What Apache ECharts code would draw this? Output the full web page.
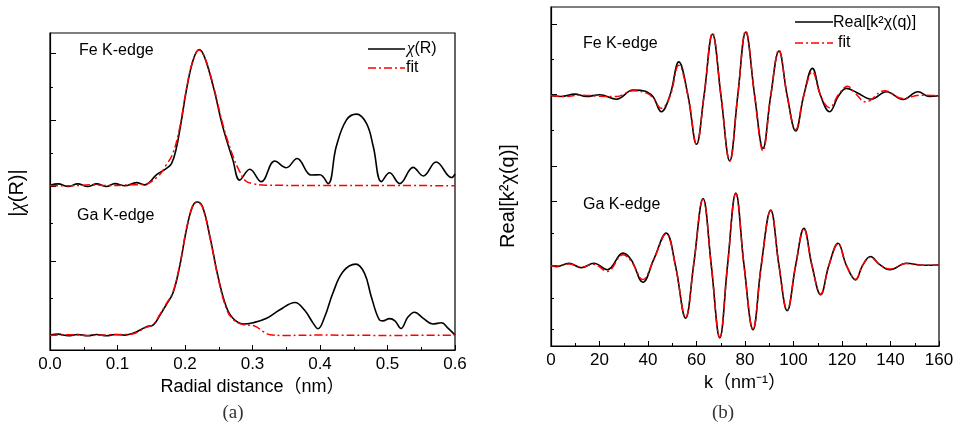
<!DOCTYPE html>
<html>
<head>
<meta charset="utf-8">
<script src="https://cdn.jsdelivr.net/npm/echarts@6/dist/echarts.min.js"></script>
<style>
  html, body { margin: 0; padding: 0; background: #fff; }
  #chart { width: 961px; height: 434px; }
</style>
</head>
<body>
<div id="chart"></div>
<script>
// (a) |chi(R)| -- [R (nm), offset magnitude]
const feChi = [
  [0, 52.0], [0.012, 52.4], [0.027, 51.6], [0.041, 52.4], [0.056, 51.6], [0.069, 52.4],
  [0.084, 51.6], [0.096, 52.5], [0.111, 51.8], [0.128, 52.8], [0.140, 52.1], [0.158, 55.3],
  [0.172, 57.2], [0.180, 58.8], [0.187, 63.5], [0.194, 71.5], [0.202, 81.9], [0.212, 91.4],
  [0.221, 94.8], [0.229, 92.4], [0.242, 83.0], [0.256, 70.4], [0.271, 59.9], [0.281, 53.6],
  [0.296, 57.0], [0.313, 53.1], [0.333, 59.6], [0.350, 57.5], [0.366, 60.4], [0.387, 55.2],
  [0.400, 55.3], [0.412, 52.5], [0.424, 64.1], [0.439, 72.5], [0.454, 74.4], [0.469, 71.4],
  [0.479, 64.1], [0.491, 53.1], [0.503, 55.9], [0.518, 52.5], [0.538, 57.6], [0.553, 54.9],
  [0.572, 59.3], [0.595, 54.4], [0.6, 55.5]
];
const feChiFit = [
  [0, 51.9], [0.03, 51.8], [0.06, 52.1], [0.09, 51.9], [0.12, 52.1], [0.14, 52.3],
  [0.16, 54.8], [0.172, 58.3], [0.182, 62.0], [0.192, 70.0], [0.202, 82.2], [0.212, 91.5],
  [0.221, 94.6], [0.229, 92.4], [0.242, 83.4], [0.256, 71.2], [0.271, 61.2], [0.281, 56.3],
  [0.290, 53.3], [0.300, 52.5], [0.32, 52.0], [0.4, 51.9], [0.5, 51.9], [0.6, 51.8]
];
const gaChi = [
  [0, 4.7], [0.012, 5.0], [0.027, 4.5], [0.041, 4.9], [0.056, 4.5], [0.069, 4.9],
  [0.084, 4.5], [0.096, 4.9], [0.111, 4.7], [0.123, 5.25], [0.143, 7.35], [0.153, 7.9],
  [0.163, 11.0], [0.172, 14.2], [0.182, 17.9], [0.192, 26.3], [0.202, 37.8], [0.211, 45.2],
  [0.218, 46.7], [0.226, 45.2], [0.237, 35.7], [0.249, 23.1], [0.261, 13.7], [0.271, 10.0],
  [0.286, 8.2], [0.301, 8.6], [0.321, 10.0], [0.340, 12.6], [0.363, 15.0], [0.377, 12.6],
  [0.390, 8.4], [0.397, 6.7], [0.407, 10.5], [0.419, 17.9], [0.434, 24.7], [0.453, 27.1],
  [0.466, 24.2], [0.476, 16.8], [0.488, 9.5], [0.493, 9.2], [0.503, 9.9], [0.511, 9.2],
  [0.520, 6.8], [0.530, 10.3], [0.540, 11.9], [0.553, 10.0], [0.567, 8.2], [0.580, 8.6],
  [0.590, 6.8], [0.6, 4.7]
];
const gaChiFit = [
  [0, 4.6], [0.03, 4.8], [0.06, 4.6], [0.09, 4.8], [0.12, 5.0], [0.143, 7.2], [0.153, 8.1],
  [0.163, 11.3], [0.172, 14.5], [0.182, 18.2], [0.192, 26.6], [0.202, 38.0], [0.211, 45.3],
  [0.218, 46.6], [0.226, 45.0], [0.237, 35.4], [0.249, 22.8], [0.261, 13.2], [0.271, 9.7],
  [0.286, 8.0], [0.303, 7.6], [0.316, 5.8], [0.326, 4.8], [0.35, 4.6], [0.4, 4.7],
  [0.5, 4.6], [0.6, 4.7]
];

// (b) Real[k^2 chi(q)] -- [k (nm^-1), offset value]
const feReal = [
  [0, 73.9], [4.3, 73.6], [9.8, 74.3], [14.6, 73.6], [20.1, 74.1], [27, 72.8], [33.8, 75.5],
  [37, 75.4], [39.4, 75.0], [42.1, 73.5], [45.5, 69.1], [49, 73.8], [52.7, 83.8], [56.5, 73.8],
  [60, 59.5], [63.1, 73.8], [66.6, 92.0], [70.1, 73.8], [73.7, 54.6], [77.0, 73.8], [80.3, 92.6],
  [84.0, 73.8], [87.4, 58.3], [90.6, 73.8], [94.0, 87.0], [97.4, 73.8], [100.9, 63.4],
  [104.2, 73.8], [107.8, 81.9], [111.2, 73.8], [114.9, 69.1], [118.6, 73.8], [121.8, 76.0],
  [126, 74.8], [132.1, 72.8], [138.3, 75.0], [145.2, 72.7], [151.3, 75.0], [156.1, 73.6], [160, 73.8]
];
const feRealFit = [
  [0, 73.9], [6, 73.6], [12, 74.0], [20, 73.7], [27, 73.6], [33.8, 75.3], [39.4, 74.6],
  [42.1, 73.2], [45.5, 70.1], [49, 73.5], [52.7, 82.8], [56.5, 73.8], [60, 59.5], [63.1, 73.8],
  [66.6, 92.3], [70.1, 73.8], [73.7, 54.6], [77.0, 73.8], [80.3, 92.9], [84.0, 73.6], [87.4, 57.6],
  [90.6, 73.8], [94.0, 87.3], [97.4, 73.8], [100.9, 63.8], [104.2, 73.8], [107.8, 80.9],
  [111.2, 73.8], [114.9, 70.3], [118.6, 74.2], [122.3, 76.6], [125.5, 74.5], [129.8, 72.0],
  [137.5, 75.3], [145.2, 73.0], [152, 74.0], [160, 73.8]
];
const gaReal = [
  [0, 23.8], [2.2, 23.4], [7.4, 24.4], [12.5, 23.1], [17.7, 24.4], [23.2, 22.5], [29.7, 27.4],
  [33.1, 25.4], [37.9, 18.8], [42.3, 25.4], [47.5, 33.3], [51.3, 23.8], [55.5, 8.2], [58.8, 23.8],
  [62.7, 43.5], [66.1, 23.8], [69.6, 2.4], [72.8, 23.8], [76.2, 45.1], [79.6, 23.8], [83.3, 4.8],
  [86.7, 23.8], [90.6, 40.1], [94.0, 23.8], [97.4, 10.4], [100.9, 23.8], [104.3, 34.7],
  [107.6, 23.8], [111.2, 15.1], [114.6, 23.8], [118.4, 30.3], [121.8, 23.8], [125.6, 19.5],
  [128.5, 23.8], [131.7, 26.4], [135.6, 24.0], [139.7, 22.5], [146.6, 24.4], [153.5, 23.8], [160, 23.9]
];
const gaRealFit = [
  [0, 23.7], [3, 23.6], [7.4, 24.2], [12.5, 23.3], [17.7, 24.1], [23.2, 22.0], [29.7, 26.9],
  [33.1, 25.0], [37.9, 19.6], [42.3, 25.4], [47.5, 33.1], [51.3, 23.8], [55.5, 8.4], [58.8, 23.8],
  [62.7, 43.3], [66.1, 23.8], [69.6, 2.6], [72.8, 23.8], [76.2, 44.9], [79.6, 23.8], [83.3, 5.0],
  [86.7, 23.8], [90.6, 39.9], [94.0, 23.8], [97.4, 10.6], [100.9, 23.8], [104.3, 34.5],
  [107.6, 23.8], [111.2, 15.3], [114.6, 23.8], [118.4, 30.1], [121.8, 23.8], [125.6, 19.7],
  [128.5, 23.8], [131.7, 26.2], [135.6, 24.0], [139.7, 22.7], [146.6, 24.3], [153.5, 23.8], [160, 23.8]
];

// unlabeled y ticks (irregular in the original)
const yTicksA = [93.5, 72.5, 51.5, 28.0, 4.7];
const yTicksAMinor = [83.0, 62.0, 39.9, 16.3];
const yTicksB = [94.8, 74.2, 53.0, 42.8, 23.7];
const yTicksBMinor = [84.5, 63.5, 33.4, 14.1, 4.8];

const SANS = 'Liberation Sans, Arial, Noto Sans CJK SC, sans-serif';
const SERIF = 'Liberation Serif, DejaVu Serif, serif';
const RED = '#ff0000';
const dashDot = [8, 3, 2, 3];

const chart = echarts.init(document.getElementById('chart'), null, { renderer: 'canvas' });

function xAxisOf(grid, max, interval, name, fmt) {
  return {
    type: 'value', gridIndex: grid, min: 0, max: max, interval: interval,
    axisLine: { show: true, lineStyle: { color: '#000', width: 1.2 } },
    axisTick: { show: true, inside: true, length: 5, lineStyle: { color: '#000' } },
    minorTick: { show: true, splitNumber: 2, length: 3, lineStyle: { color: '#000' } },
    splitLine: { show: false },
    axisLabel: { color: '#000', fontSize: 17, fontFamily: SANS, margin: 6, formatter: fmt },
    name: name, nameLocation: 'middle', nameGap: 22,
    nameTextStyle: { color: '#000', fontSize: 18, fontFamily: SANS }
  };
}

function yAxisOf(grid, ticks, len, line) {
  return {
    type: 'value', gridIndex: grid, min: 0, max: 100, position: 'left',
    axisLine: { show: line, lineStyle: { color: '#000', width: 1.2 } },
    axisTick: { show: true, inside: true, length: len, customValues: ticks, lineStyle: { color: '#000' } },
    axisLabel: { show: false },
    splitLine: { show: false }
  };
}

function lineSeries(xi, yi, data, color, type, width) {
  return {
    type: 'line', xAxisIndex: xi, yAxisIndex: yi, data: data,
    smooth: 0.4, showSymbol: false, symbol: 'none', silent: true,
    lineStyle: { color: color, width: width, type: type }
  };
}

chart.setOption({
  backgroundColor: '#fff',
  animation: false,
  grid: [
    { left: 50, top: 33, right: 506, bottom: 84, show: true, borderColor: '#000', borderWidth: 1.2 },
    { left: 551, top: 7, right: 22, bottom: 88, show: true, borderColor: '#000', borderWidth: 1.2 }
  ],
  xAxis: [
    xAxisOf(0, 0.6, 0.1, 'Radial distance（nm）', v => v.toFixed(1)),
    xAxisOf(1, 160, 20, 'k（nm⁻¹）', v => String(v))
  ],
  yAxis: [
    yAxisOf(0, yTicksA, 6, true),
    yAxisOf(0, yTicksAMinor, 3, false),
    yAxisOf(1, yTicksB, 6, true),
    yAxisOf(1, yTicksBMinor, 3, false)
  ],
  series: [
    lineSeries(0, 0, feChi, '#000', 'solid', 1.6),
    lineSeries(0, 0, gaChi, '#000', 'solid', 1.6),
    lineSeries(0, 0, feChiFit, RED, dashDot, 1.5),
    lineSeries(0, 0, gaChiFit, RED, dashDot, 1.5),
    lineSeries(1, 2, feReal, '#000', 'solid', 1.6),
    lineSeries(1, 2, gaReal, '#000', 'solid', 1.6),
    lineSeries(1, 2, feRealFit, RED, dashDot, 1.5),
    lineSeries(1, 2, gaRealFit, RED, dashDot, 1.5)
  ],
  graphic: [
    // y axis titles
    { type: 'text', x: 17, y: 193, rotation: Math.PI / 2,
      style: { text: '|{c|χ}(R)|', fill: '#000', font: '20px ' + SANS, align: 'center', verticalAlign: 'middle',
        rich: { c: { fontFamily: SERIF, fontStyle: 'italic', fontSize: 21, fill: '#000' } } } },
    { type: 'text', x: 508, y: 196, rotation: Math.PI / 2,
      style: { text: 'Real[k²χ(q)]', fill: '#000', font: '20px ' + SANS, align: 'center', verticalAlign: 'middle' } },
    // panel annotations
    { type: 'text', x: 79, y: 51, style: { text: 'Fe K-edge', fill: '#000', font: '16px ' + SANS, verticalAlign: 'middle' } },
    { type: 'text', x: 77, y: 216, style: { text: 'Ga K-edge', fill: '#000', font: '16px ' + SANS, verticalAlign: 'middle' } },
    { type: 'text', x: 583, y: 44, style: { text: 'Fe K-edge', fill: '#000', font: '16px ' + SANS, verticalAlign: 'middle' } },
    { type: 'text', x: 583, y: 205, style: { text: 'Ga K-edge', fill: '#000', font: '16px ' + SANS, verticalAlign: 'middle' } },
    // legend (a)
    { type: 'line', shape: { x1: 368, y1: 49, x2: 405, y2: 49 }, style: { stroke: '#000', lineWidth: 1.6 } },
    { type: 'text', x: 407, y: 49, style: { text: '{c|χ}(R)', fill: '#000', font: '16px ' + SANS, verticalAlign: 'middle',
        rich: { c: { fontFamily: SERIF, fontStyle: 'italic', fontSize: 17, fill: '#000' } } } },
    { type: 'line', shape: { x1: 368, y1: 68, x2: 405, y2: 68 }, style: { stroke: RED, lineWidth: 1.5, lineDash: dashDot } },
    { type: 'text', x: 406, y: 68, style: { text: 'fit', fill: '#000', font: '16px ' + SANS, verticalAlign: 'middle' } },
    // legend (b)
    { type: 'line', shape: { x1: 795, y1: 22, x2: 833, y2: 22 }, style: { stroke: '#000', lineWidth: 1.6 } },
    { type: 'text', x: 833, y: 23, style: { text: 'Real[k²χ(q)]', fill: '#000', font: '16px ' + SANS, verticalAlign: 'middle' } },
    { type: 'line', shape: { x1: 795, y1: 43, x2: 833, y2: 43 }, style: { stroke: RED, lineWidth: 1.5, lineDash: dashDot } },
    { type: 'text', x: 838, y: 43, style: { text: 'fit', fill: '#000', font: '16px ' + SANS, verticalAlign: 'middle' } },
    // sub-captions
    { type: 'text', x: 233, y: 413, style: { text: '(a)', fill: '#333', font: '19px ' + SERIF, align: 'center', verticalAlign: 'middle' } },
    { type: 'text', x: 723, y: 413, style: { text: '(b)', fill: '#333', font: '19px ' + SERIF, align: 'center', verticalAlign: 'middle' } }
  ]
});
</script>
</body>
</html>
